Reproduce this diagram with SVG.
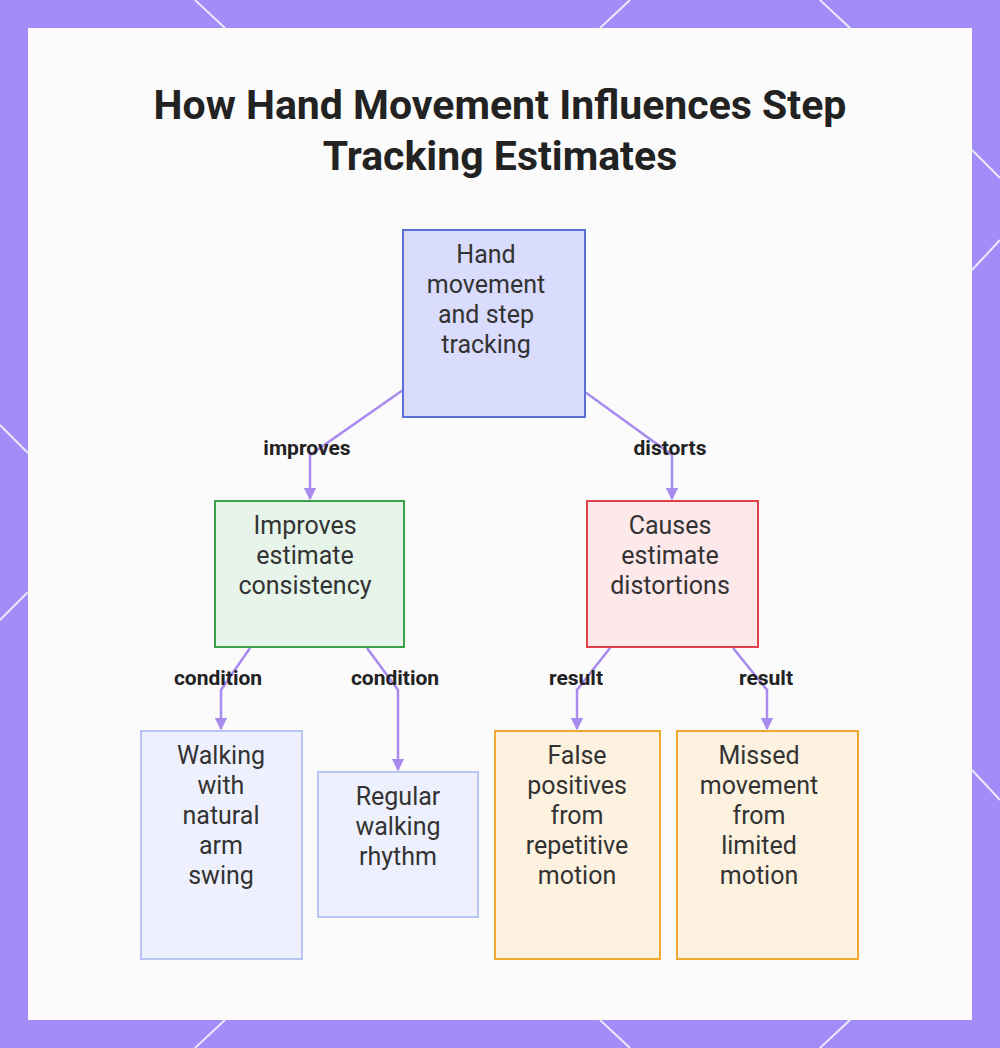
<svg xmlns="http://www.w3.org/2000/svg" width="1000" height="1048" viewBox="0 0 1000 1048">
<style>
.t{font-family:Roboto,"Liberation Sans",sans-serif;font-size:25px;fill:#333;text-anchor:middle;dominant-baseline:middle}
.l{font-family:Roboto,"Liberation Sans",sans-serif;font-size:21px;font-weight:bold;fill:#222;text-anchor:middle;dominant-baseline:middle}
.c{fill:none;stroke:#a98bf0;stroke-width:2.5}
</style>
<defs><marker id="a" viewBox="0 0 10 10" refX="9" refY="5" markerWidth="5" markerHeight="5" orient="auto"><path d="M0,0L10,5L0,10z" fill="#a98bf0"/></marker></defs>
<rect width="1000" height="1048" fill="#a48cf8"/>
<g stroke="#fff" stroke-width="2" opacity="0.8">
<line x1="195" y1="0" x2="225" y2="28"/><line x1="630" y1="0" x2="600" y2="28"/><line x1="820" y1="0" x2="850" y2="28"/>
<line x1="972" y1="150" x2="1000" y2="178"/><line x1="972" y1="270" x2="1000" y2="240"/><line x1="972" y1="770" x2="1000" y2="800"/>
<line x1="0" y1="425" x2="28" y2="453"/><line x1="0" y1="620" x2="28" y2="592"/>
<line x1="195" y1="1048" x2="225" y2="1020"/><line x1="600" y1="1020" x2="630" y2="1048"/><line x1="820" y1="1048" x2="850" y2="1020"/>
</g>
<rect x="28" y="28" width="944" height="992" fill="#fbfbfb"/>
<text x="500" y="108" class="t" style="font-size:41px;font-weight:bold;fill:#222">How Hand Movement Influences Step</text>
<text x="500" y="159" class="t" style="font-size:41px;font-weight:bold;fill:#222">Tracking Estimates</text>
<g id="connectors">
<path class="c" d="M403,390L310,455L310,499" marker-end="url(#a)"/>
<path class="c" d="M585,392L672,455L672,499" marker-end="url(#a)"/>
<path class="c" d="M250,648L221,690L221,729" marker-end="url(#a)"/>
<path class="c" d="M367,648L398,690L398,770" marker-end="url(#a)"/>
<path class="c" d="M610,648L577,690L577,729" marker-end="url(#a)"/>
<path class="c" d="M733,648L767,690L767,729" marker-end="url(#a)"/>
<text x="307" y="449" class="l">improves</text>
<text x="670" y="449" class="l">distorts</text>
<text x="218" y="679" class="l">condition</text>
<text x="395" y="679" class="l">condition</text>
<text x="576" y="679" class="l">result</text>
<text x="766" y="679" class="l">result</text>
</g>
<g id="hand"><rect x="403" y="230" width="182" height="187" fill="#d9dcfc" stroke="#5b6fd6" stroke-width="2"/>
<text x="486" y="256" class="t">Hand</text><text x="486" y="286" class="t">movement</text><text x="486" y="316" class="t">and step</text><text x="486" y="346" class="t">tracking</text></g>
<g id="improves"><rect x="215" y="501" width="189" height="146" fill="#e6f4ea" stroke="#3aa04a" stroke-width="2"/>
<text x="305" y="527" class="t">Improves</text><text x="305" y="557" class="t">estimate</text><text x="305" y="587" class="t">consistency</text></g>
<g id="causes"><rect x="587" y="501" width="171" height="146" fill="#fde8ea" stroke="#e0404a" stroke-width="2"/>
<text x="670" y="527" class="t">Causes</text><text x="670" y="557" class="t">estimate</text><text x="670" y="587" class="t">distortions</text></g>
<g id="walking"><rect x="141" y="731" width="161" height="228" fill="#eef1fd" stroke="#b8c4f4" stroke-width="2"/>
<text x="221" y="757" class="t">Walking</text><text x="221" y="787" class="t">with</text><text x="221" y="817" class="t">natural</text><text x="221" y="847" class="t">arm</text><text x="221" y="877" class="t">swing</text></g>
<g id="regular"><rect x="318" y="772" width="160" height="145" fill="#eef1fd" stroke="#b8c4f4" stroke-width="2"/>
<text x="398" y="798" class="t">Regular</text><text x="398" y="828" class="t">walking</text><text x="398" y="858" class="t">rhythm</text></g>
<g id="false"><rect x="495" y="731" width="165" height="228" fill="#fdf2e0" stroke="#f0a830" stroke-width="2"/>
<text x="577" y="757" class="t">False</text><text x="577" y="787" class="t">positives</text><text x="577" y="817" class="t">from</text><text x="577" y="847" class="t">repetitive</text><text x="577" y="877" class="t">motion</text></g>
<g id="missed"><rect x="677" y="731" width="181" height="228" fill="#fdf2e0" stroke="#f0a830" stroke-width="2"/>
<text x="759" y="757" class="t">Missed</text><text x="759" y="787" class="t">movement</text><text x="759" y="817" class="t">from</text><text x="759" y="847" class="t">limited</text><text x="759" y="877" class="t">motion</text></g>
</svg>
